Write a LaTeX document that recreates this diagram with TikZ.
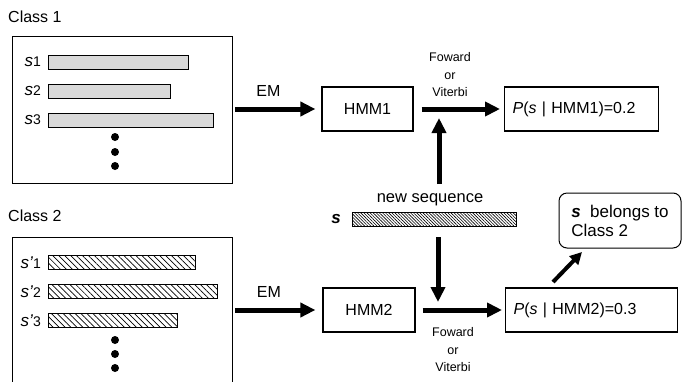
\documentclass[tikz,border=0pt]{standalone}
\usepackage{fontspec}
\setmainfont{Liberation Sans}
\usetikzlibrary{arrows.meta,patterns.meta}
% sequence label: italic s with a smaller index
\newcommand\seqlab[2]{{\fontsize{17}{17}\selectfont\itshape #1}{\fontsize{14}{14}\selectfont #2}}
\begin{document}
\begin{tikzpicture}[x=1pt,y=-1pt,
  every node/.style={font=\fontsize{16}{19}\selectfont},
  txt/.style={inner sep=0pt},
  frame/.style={draw, line width=1.2pt, inner sep=0pt, anchor=north west},
  box/.style={draw, line width=1.2pt, minimum height=44pt, inner sep=0pt},
  seqbar/.style={draw, line width=0.8pt, minimum height=14pt, inner sep=0pt, anchor=west},
  dotted bar/.style={seqbar, pattern={Dots[distance=2pt, radius=0.6pt]}, pattern color=black!65},
  hatched bar/.style={seqbar, pattern={Lines[angle=-45, distance=4.2pt, line width=0.7pt]}},
  dense bar/.style={seqbar, pattern={Lines[angle=-45, distance=2.2pt, line width=0.6pt]}},
  seqdot/.style={circle, fill=black, inner sep=0pt, minimum size=8pt},
  small/.style={font=\fontsize{12.5}{17.5}\selectfont, align=center, inner sep=0pt},
  bigarrow/.style={line width=5pt, -{Triangle[length=15pt, width=14pt]}},
  midarrow/.style={line width=4pt, -{Triangle[length=12pt, width=12pt]}}]
\useasboundingbox (0,0) rectangle (682,381);

% ---- class 1 training set
\node[txt, anchor=west] (cls1) at (8,17) {Class 1};
\node[frame, minimum width=220pt, minimum height=147pt] (c1box) at (12,36) {};
\node[dotted bar, minimum width=140pt] (s1) at (48,62) {};
\node[dotted bar, minimum width=122pt] (s2) at (48,91) {};
\node[dotted bar, minimum width=165pt] (s3) at (48,120) {};
\node[txt, anchor=east] (l1) at (41,62) {\seqlab{s}{1}};
\node[txt, anchor=east] (l2) at (41,91) {\seqlab{s}{2}};
\node[txt, anchor=east] (l3) at (41,120) {\seqlab{s}{3}};
\node[seqdot] (d1) at (115,137) {};
\node[seqdot] (d2) at (115,152) {};
\node[seqdot] (d3) at (115,166) {};

% ---- class 2 training set
\node[txt, anchor=west] (cls2) at (8,216) {Class 2};
\node[frame, minimum width=220pt, minimum height=170pt] (c2box) at (12,237) {};
\node[hatched bar, minimum width=147pt] (t1) at (48,262.5) {};
\node[hatched bar, minimum width=169pt] (t2) at (48,291.5) {};
\node[hatched bar, minimum width=129pt] (t3) at (48,320.5) {};
\node[txt, anchor=east] (m1) at (41,262.5) {\seqlab{s'}{1}};
\node[txt, anchor=east] (m2) at (41,291.5) {\seqlab{s'}{2}};
\node[txt, anchor=east] (m3) at (41,320.5) {\seqlab{s'}{3}};
\node[seqdot] (e1) at (115,340) {};
\node[seqdot] (e2) at (115,354) {};
\node[seqdot] (e3) at (115,368) {};

% ---- models
\node[box, minimum width=91pt] (hmm1) at (367.5,109) {HMM1};
\node[box, minimum width=92pt] (hmm2) at (369,310) {HMM2};

% ---- likelihoods
\node[box, anchor=west, text width=138pt, inner xsep=8pt, align=left] (p1) at (504,109)
  {\textit{P}(\textit{s} | HMM1)=0.2};
\node[box, anchor=west, text width=156pt, inner xsep=8pt, align=left] (p2) at (505,310)
  {\textit{P}(\textit{s} | HMM2)=0.3};

% ---- training arrows
\draw[bigarrow, shorten <=2pt, shorten >=6pt] (c1box.east |- hmm1.west) -- (hmm1.west)
  node[txt, pos=0.4, above=10pt] (em1) {EM};
\draw[bigarrow, shorten <=2pt, shorten >=7pt] (c2box.east |- hmm2.west) -- (hmm2.west)
  node[txt, pos=0.4, above=10pt] (em2) {EM};

% ---- scoring arrows
\draw[bigarrow, shorten <=8pt, shorten >=4pt] (hmm1.east) -- (p1.west);
\draw[bigarrow, shorten <=7pt, shorten >=3pt] (hmm2.east) -- (p2.west);
\node[small] (fv1) at (450,75) {Foward\\or\\Viterbi};
\node[small] (fv2) at (453,350) {Foward\\or\\Viterbi};

% ---- new sequence
\node[txt, anchor=base] (newseq) at (430,202) {\fontsize{16.5}{19}\selectfont new sequence};
\node[dense bar, minimum width=164pt] (sbar) at (352,219) {};
\node[txt, anchor=base] (slab) at (336,223) {\fontsize{17}{17}\selectfont\bfseries\itshape s};
\coordinate (upstart) at (439,184);
\coordinate (uptip) at (439,118);
\coordinate (downstart) at (438,237);
\coordinate (downtip) at (438,302);
\draw[bigarrow] (upstart) -- (uptip);
\draw[bigarrow] (downstart) -- (downtip);

% ---- decision
\node[draw, line width=1pt, rounded corners=8pt, minimum width=122pt, minimum height=55pt,
  align=left, inner sep=0pt, font=\fontsize{17}{19}\selectfont] (bub) at (620,220.5)
  {{\bfseries\itshape s}\ \ belongs to\\Class 2};
\coordinate (decstart) at (553,282);
\coordinate (dectip) at (582,252);
\draw[midarrow] (decstart) -- (dectip);
\end{tikzpicture}
\end{document}
